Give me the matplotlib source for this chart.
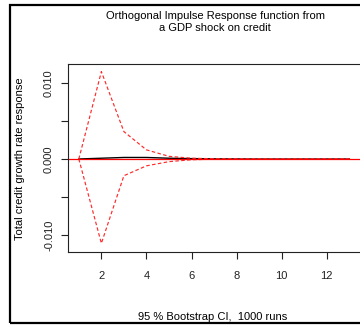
import matplotlib
matplotlib.use("Agg")
import matplotlib.pyplot as plt
from matplotlib.patches import Rectangle
import numpy as np

plt.rcParams["font.family"] = ["Liberation Sans", "DejaVu Sans"]

# impulse response horizon
steps = [1, 2, 3, 4, 5, 6, 7, 8, 9, 10, 11, 12, 13]
irf = [0.0, 0.0001, 0.0002, 0.0002, 0.0001, 0.00005, 0.00002, 0.00001, 0.0, 0.0, 0.0, 0.0, 0.0]
upper = [0.0, 0.0115, 0.0036, 0.0012, 0.00035, 0.0001, 0.00003, 0.00001, 0.0, 0.0, 0.0, 0.0, 0.0]
lower = [0.0, -0.0111, -0.0022, -0.0009, -0.00035, -0.0001, -0.00003, -0.00001, 0.0, 0.0, 0.0, 0.0, 0.0]

yticks = [-0.010, -0.005, 0.0, 0.005, 0.010]
ytick_labels = ["-0.010", "", "0.000", "", "0.010"]
xticks = [2, 4, 6, 8, 10, 12]

W, H = 360, 325
fig = plt.figure(figsize=(W / 100, H / 100), dpi=100)

# axes box in pixels: left 68, top 64, bottom 252, right just past the edge
left, top, bottom, right = 68, 64, 252, 362
ax = fig.add_axes([left / W, 1 - bottom / H, (right - left) / W, (bottom - top) / H])

ax.plot(steps, irf, color="black", lw=1.0)
ax.plot(steps, upper, color="#ff2a2a", lw=0.85, ls=(0, (3, 2)))
ax.plot(steps, lower, color="#ff2a2a", lw=0.85, ls=(0, (3, 2)))
ax.axhline(0, color="red", lw=0.9)

ax.set_xlim(0.52, 13.56)
ax.set_ylim(-0.01224, 0.0125)
ax.set_xticks(xticks)
ax.set_yticks(yticks)
ax.set_yticklabels(ytick_labels, rotation=90, va="center")
ax.tick_params(axis="both", direction="out", length=5, width=0.8, labelsize=8, colors="#222222")
ax.tick_params(axis="x", pad=8.5)
ax.tick_params(axis="y", pad=5)
for s in ax.spines.values():
    s.set_linewidth(0.8)
    s.set_color("#222222")

fig.text(215 / W, 1 - 22 / H, "Orthogonal Impulse Response function from\na GDP shock on credit",
         ha="center", va="center", fontsize=8, linespacing=1.35)
fig.text(20 / W, 1 - 159 / H, "Total credit growth rate response", rotation=90,
         ha="center", va="center", fontsize=8)
fig.text(213 / W, 1 - 317 / H, "95 % Bootstrap CI,  1000 runs", ha="center", va="center", fontsize=8)

# outer frame of the R device
fig.patches.append(Rectangle((10 / W, 1 - 323 / H), (W + 5) / W, 318 / H, transform=fig.transFigure,
                             fill=False, edgecolor="black", lw=1.6))

fig.savefig("out.png", dpi=100)
